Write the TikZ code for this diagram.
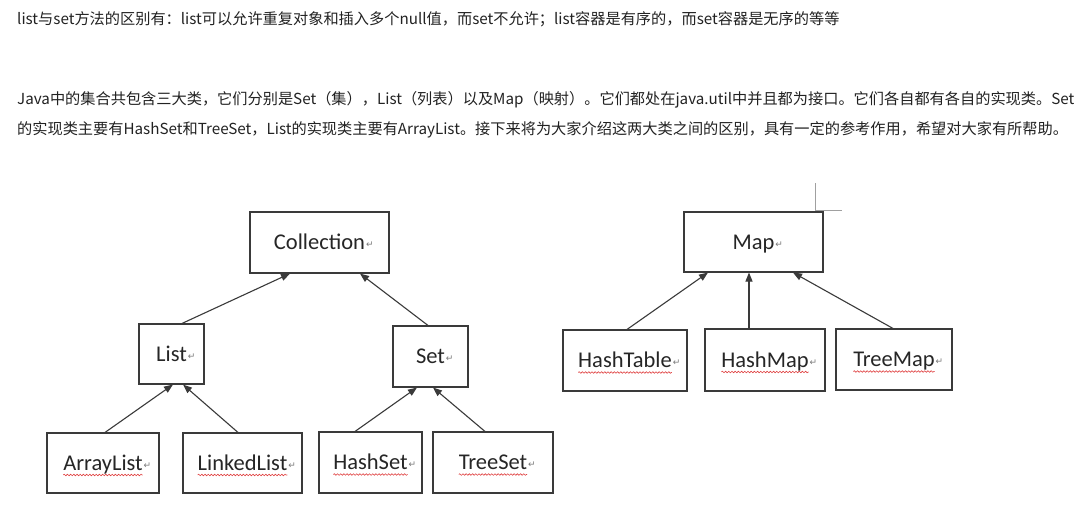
\documentclass[tikz,border=0pt]{standalone}
\usepackage{fontspec}
\setmainfont{Noto Sans CJK SC}
\newfontfamily\boxfont{Carlito}
\newfontfamily\symfont{DejaVu Sans}
\usetikzlibrary{arrows.meta,decorations.pathmorphing}
\definecolor{linegray}{HTML}{3A3A3A}
\definecolor{bodytext}{HTML}{222222}
\definecolor{retgray}{HTML}{7A7A7A}
\definecolor{markgray}{HTML}{A0A0A0}
\definecolor{wavered}{HTML}{E04040}
\tikzset{
  umlbox/.style={draw=linegray, line width=1.1pt, fill=white, inner sep=0pt},
  word/.style={inner sep=0pt, outer sep=0pt, anchor=base, font=\boxfont\fontsize{22.5}{24}\selectfont, text=black!85},
  retmark/.style={inner sep=0pt, outer sep=0pt, anchor=base west, font=\symfont\fontsize{9}{10}\selectfont, text=retgray},
  arr/.style={draw=linegray, line width=1.1pt, -{Triangle[length=9pt,width=7pt]}},
  wave/.style={draw=wavered, line width=0.6pt, decorate, decoration={snake, amplitude=0.8pt, segment length=3.2pt}},
  bodyline/.style={inner sep=0pt, anchor=west, text=bodytext, font=\fontsize{15.2}{17}\selectfont},
}
\begin{document}
\begin{tikzpicture}[x=1pt,y=-1pt]
\useasboundingbox (0,0) rectangle (1088,525);
\fill[white] (0,0) rectangle (1088,525);

% body text
\node[bodyline] (t1) at (17,19) {list与set方法的区别有：list可以允许重复对象和插入多个null值，而set不允许；list容器是有序的，而set容器是无序的等等};
\node[bodyline] (t2) at (17,100) {Java中的集合共包含三大类，它们分别是Set（集），List（列表）以及Map（映射）。它们都处在java.util中并且都为接口。它们各自都有各自的实现类。Set};
\node[bodyline] (t3) at (17,130) {的实现类主要有HashSet和TreeSet，List的实现类主要有ArrayList。接下来将为大家介绍这两大类之间的区别，具有一定的参考作用，希望对大家有所帮助。};

% boxes
\node[umlbox, minimum width=139pt, minimum height=61pt] (coll) at (319.5,242.5) {};
\node[umlbox, minimum width=65pt, minimum height=60pt] (list) at (171.5,354) {};
\node[umlbox, minimum width=75pt, minimum height=61pt] (set) at (430.5,356.5) {};
\node[umlbox, minimum width=112pt, minimum height=60pt] (arraylist) at (103,463) {};
\node[umlbox, minimum width=119pt, minimum height=60pt] (linkedlist) at (242.5,463) {};
\node[umlbox, minimum width=103pt, minimum height=61pt] (hashset) at (370.5,462.5) {};
\node[umlbox, minimum width=120pt, minimum height=61pt] (treeset) at (493,462.5) {};
\node[umlbox, minimum width=139pt, minimum height=60pt] (map) at (753.5,242) {};
\node[umlbox, minimum width=124pt, minimum height=61pt] (hashtable) at (625,360.5) {};
\node[umlbox, minimum width=120pt, minimum height=62pt] (hashmap) at (765,360) {};
\node[umlbox, minimum width=116pt, minimum height=61pt] (treemap) at (894,359.5) {};

% labels
\foreach \b/\t/\u in {coll/Collection/0, list/List/0, set/Set/0, map/Map/0,
  arraylist/ArrayList/1, linkedlist/LinkedList/1, hashset/HashSet/1, treeset/TreeSet/1,
  hashtable/HashTable/1, hashmap/HashMap/1, treemap/TreeMap/1}{
  \node[word] (\b-w) at ([yshift=-7pt]\b.center) {\t};
  \node[retmark] (\b-r) at ([xshift=1pt,yshift=2pt]\b-w.base east) {↵};
  \ifnum\u=1
    \draw[wave] ([yshift=-5pt]\b-w.base west) -- ([yshift=-5pt]\b-w.base east);
  \fi
}

% connectors
\draw[arr] ([xshift=10.5pt]list.north) -- ([xshift=-29.5pt]coll.south);
\draw[arr] ([xshift=-2.5pt]set.north) -- ([xshift=40.5pt]coll.south);
\draw[arr] ([xshift=2pt]arraylist.north) -- ([xshift=1.5pt]list.south);
\draw[arr] ([xshift=-4.5pt]linkedlist.north) -- ([xshift=11.5pt]list.south);
\draw[arr] ([xshift=-15.5pt]hashset.north) -- ([xshift=-13.5pt]set.south);
\draw[arr] ([xshift=-8pt]treeset.north) -- ([xshift=2.5pt]set.south);
\draw[arr] ([xshift=2pt]hashtable.north) -- ([xshift=-45.5pt]map.south);
\draw[arr] ([xshift=-16pt]hashmap.north) -- ([xshift=-4.5pt]map.south);
\draw[arr] ([xshift=-1pt]treemap.north) -- ([xshift=39.5pt]map.south);

% corner mark near Map
\coordinate (c1) at (815,183);
\coordinate (c2) at (815,210);
\coordinate (c3) at (842,210);
\draw[markgray, line width=0.8pt] (c1) -- (c2) -- (c3);
\end{tikzpicture}
\end{document}
